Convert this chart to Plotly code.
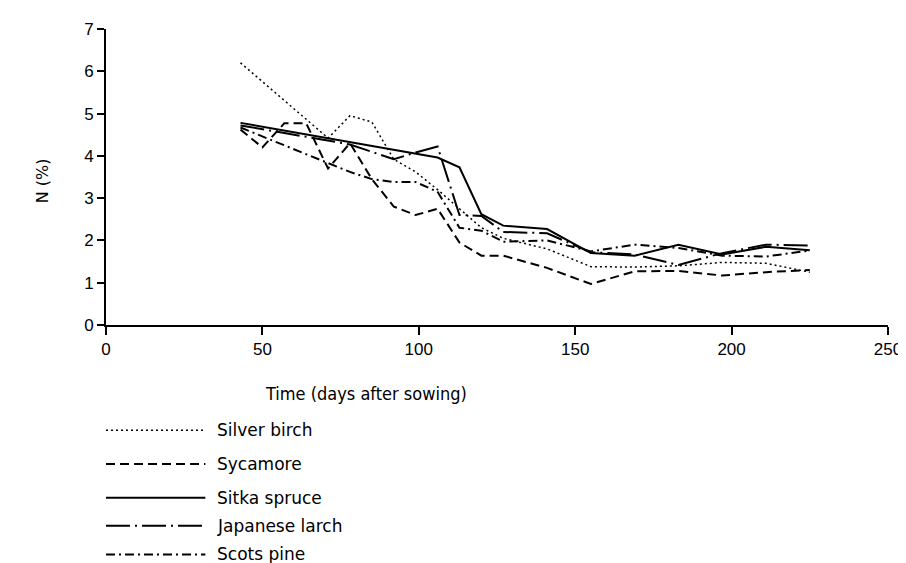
import plotly.graph_objects as go

# ---- data ----
days_birch = [43, 71, 78, 85, 92, 99, 106, 113, 120, 127, 141, 155, 169, 183, 197, 211, 225]
n_birch = [6.2, 4.42, 4.95, 4.8, 3.92, 3.62, 3.2, 2.75, 2.3, 2.05, 1.8, 1.38, 1.37, 1.4, 1.48, 1.46, 1.25]

days_syc = [43, 50, 57, 64, 71, 78, 85, 92, 99, 106, 113, 120, 127, 141, 155, 169, 183, 197, 211, 225]
n_syc = [4.62, 4.2, 4.77, 4.77, 3.7, 4.3, 3.45, 2.8, 2.6, 2.75, 1.95, 1.64, 1.64, 1.35, 0.97, 1.27, 1.28, 1.17, 1.25, 1.3]

days_sitka = [43, 78, 106, 113, 120, 127, 141, 155, 169, 183, 197, 211, 225]
n_sitka = [4.78, 4.33, 3.96, 3.73, 2.62, 2.35, 2.27, 1.7, 1.64, 1.9, 1.67, 1.85, 1.77]

days_larch = [43, 78, 92, 99, 106, 113, 120, 127, 141, 155, 169, 183, 197, 211, 225]
n_larch = [4.72, 4.27, 3.92, 4.08, 4.22, 2.6, 2.58, 2.2, 2.17, 1.72, 1.67, 1.42, 1.7, 1.9, 1.88]

days_pine = [43, 78, 85, 92, 99, 106, 113, 120, 127, 141, 155, 169, 183, 197, 211, 225]
n_pine = [4.67, 3.62, 3.45, 3.38, 3.38, 3.15, 2.3, 2.23, 1.97, 2.0, 1.74, 1.9, 1.82, 1.64, 1.62, 1.76]

species = ["Silver birch", "Sycamore", "Sitka spruce", "Japanese larch", "Scots pine"]
x_ticks = [0, 50, 100, 150, 200, 250]
y_ticks = [0, 1, 2, 3, 4, 5, 6, 7]

# ---- styling ----
W, H = 906, 563
L, R, T, B = 98, 21, 19, 246
dashes = ["2px,3px", "9px,5px", "solid", "24px,5px,2px,5px", "9px,4px,2px,4px"]
widths = [1.5, 2, 2, 2, 2]
series = [(days_birch, n_birch), (days_syc, n_syc), (days_sitka, n_sitka),
          (days_larch, n_larch), (days_pine, n_pine)]

fig = go.Figure()
for (xs, ys), name, d, w in zip(series, species, dashes, widths):
    fig.add_trace(go.Scatter(x=xs, y=ys, mode="lines", name=name,
                             line=dict(color="black", width=w, dash=d),
                             showlegend=False))

pw = W - L - R
ph = H - T - B
def px_x(px):
    return (px - L) / pw
def px_y(py):
    return (H - B - py) / ph

# custom legend below the chart
leg_y = [423, 457, 491, 519, 548]
shapes = []
annotations = []
for name, d, w, yy in zip(species, dashes, widths, leg_y):
    shapes.append(dict(type="line", xref="paper", yref="paper",
                       x0=px_x(98), x1=px_x(198), y0=px_y(yy), y1=px_y(yy),
                       line=dict(color="black", width=w, dash=d)))
    annotations.append(dict(text=name, xref="paper", yref="paper",
                            x=px_x(208), y=px_y(yy), xanchor="left", yanchor="middle",
                            showarrow=False,
                            font=dict(family="DejaVu Sans", size=17, color="black")))

annotations.append(dict(text="Time (days after sowing)", xref="paper", yref="paper",
                        x=px_x(360), y=px_y(386), xanchor="center", yanchor="middle",
                        showarrow=False,
                        font=dict(family="DejaVu Sans Condensed, DejaVu Sans", size=18, color="black")))
annotations.append(dict(text="N (%)", xref="paper", yref="paper",
                        x=px_x(35), y=px_y(172), xanchor="center", yanchor="middle",
                        textangle=-90, showarrow=False,
                        font=dict(family="DejaVu Sans", size=16, color="black")))

fig.update_layout(
    width=W, height=H,
    margin=dict(l=L, r=R, t=T, b=B),
    paper_bgcolor="white", plot_bgcolor="white",
    shapes=shapes, annotations=annotations,
    font=dict(family="Liberation Sans, Arial", size=17, color="black"),
)
fig.update_xaxes(range=[0, 250], tickvals=x_ticks, ticktext=[str(v) for v in x_ticks],
                 showgrid=False, zeroline=False, showline=True, linecolor="black", linewidth=2,
                 ticks="outside", ticklen=8, tickwidth=2, tickcolor="black",
                 tickfont=dict(family="Liberation Sans, Arial", size=17, color="black"))
fig.update_yaxes(range=[0, 7], tickvals=y_ticks, ticktext=[str(v) for v in y_ticks],
                 showgrid=False, zeroline=False, showline=True, linecolor="black", linewidth=2,
                 ticks="outside", ticklen=7, tickwidth=2, tickcolor="black",
                 tickfont=dict(family="Liberation Sans, Arial", size=17, color="black"))

fig.write_html("out.html")
